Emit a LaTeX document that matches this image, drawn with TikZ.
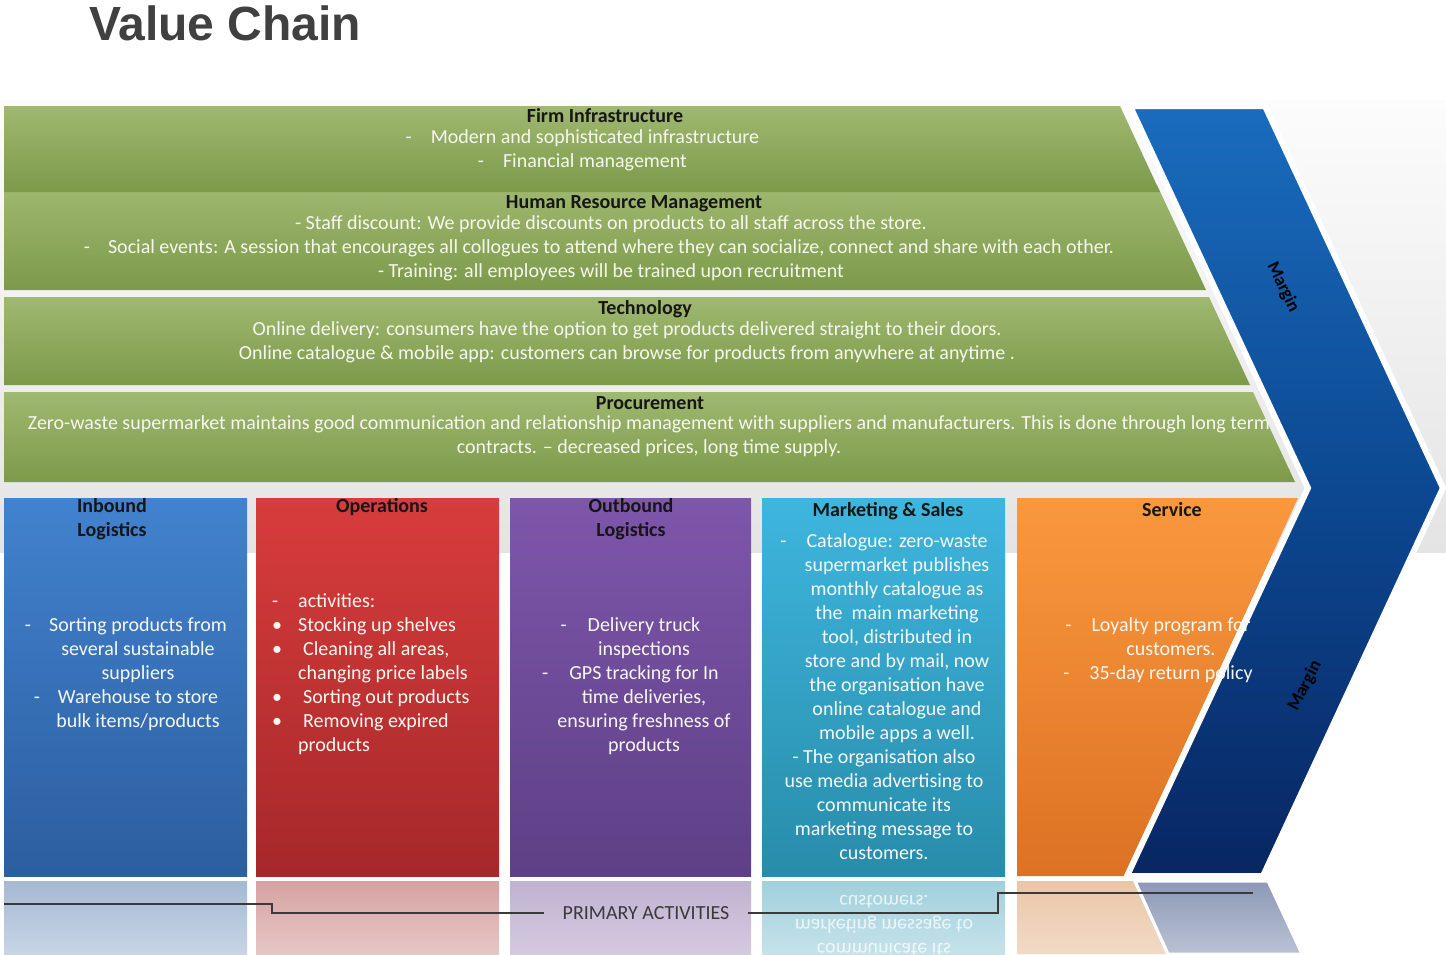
\documentclass[tikz,border=0pt]{standalone}
\usepackage{fontspec}
\setmainfont{Carlito}
\newfontfamily\titlefont{Liberation Sans}
\usetikzlibrary{calc}
\definecolor{bandtop}{RGB}{252,252,252}
\definecolor{bandbot}{RGB}{228,228,228}
\definecolor{gtop}{RGB}{160,184,112}
\definecolor{gbot}{RGB}{124,154,74}
\definecolor{btop}{RGB}{66,130,206}
\definecolor{bbot}{RGB}{44,94,160}
\definecolor{rtop}{RGB}{216,60,60}
\definecolor{rbot}{RGB}{166,40,42}
\definecolor{ptop}{RGB}{126,86,170}
\definecolor{pbot}{RGB}{94,64,134}
\definecolor{ctop}{RGB}{62,182,222}
\definecolor{cbot}{RGB}{40,140,170}
\definecolor{otop}{RGB}{250,152,62}
\definecolor{obot}{RGB}{220,114,36}
\definecolor{chtop}{RGB}{26,108,190}
\definecolor{chmid}{RGB}{12,72,145}
\definecolor{chbot}{RGB}{8,38,98}
\definecolor{headc}{RGB}{22,22,22}
\definecolor{bodyc}{RGB}{246,247,240}
\definecolor{titlec}{RGB}{64,64,64}
\definecolor{linec}{RGB}{58,58,58}
\begin{document}
\begin{tikzpicture}[x=1pt,y=-1pt,
  gbar/.style={top color=gtop,bottom color=gbot,draw=none},
  head/.style={font=\fontsize{20}{24}\selectfont\bfseries,text=headc,inner sep=0pt,anchor=base,align=center},
  body/.style={font=\fontsize{20}{24}\selectfont,text=bodyc,inner sep=0pt,anchor=base,align=center},
  margintxt/.style={font=\fontsize{18}{20}\selectfont\bfseries,text=black,inner sep=0pt},
  brk/.style={draw=linec,line width=2.8pt},
]
\useasboundingbox (0,0) rectangle (1446,954);
\fill[white] (0,0) rectangle (1446,954);
\path[top color=bandtop,bottom color=bandbot] (0,100) rectangle (1446,552);

% title
\node[font=\titlefont\fontsize{48}{56}\selectfont\bfseries,text=titlec,anchor=base west,inner sep=0pt] (title) at (89,40) {Value Chain};

% support activities
\path[gbar] (4,185) -- (1157,185) -- (1206,290) -- (4,290) -- cycle;
\path[gbar] (4,106) -- (1120,106) -- (1160,192) -- (4,192) -- cycle;
\path[gbar] (4,297) -- (1209,297) -- (1250,385) -- (4,385) -- cycle;
\path[gbar] (4,392) -- (1253,392) -- (1295,482) -- (4,482) -- cycle;

\node[head] (fih) at (605,122) {Firm Infrastructure};
\node[body] (fib) at (595,167) {\llap{-\hspace{19pt}}Modern and sophisticated infrastructure\\\llap{-\hspace{19pt}}Financial management};
\node[head] (hrh) at (634,208) {Human Resource Management};
\node[body] (hrb) at (611,277) {- Staff discount: We provide discounts on products to all staff across the store.\\\llap{-\hspace{18pt}}Social events: A session that encourages all collogues to attend where they can socialize, connect and share with each other.\\- Training: all employees will be trained upon recruitment};
\node[head] (teh) at (645,314) {Technology};
\node[body] (teb) at (627,359) {Online delivery: consumers have the option to get products delivered straight to their doors.\\Online catalogue \& mobile app: customers can browse for products from anywhere at anytime .};
\node[head] (prh) at (650,409) {Procurement};
\node[body] (prb) at (649,453) {Zero-waste supermarket maintains good communication and relationship management with suppliers and manufacturers. This is done through long term\\contracts. -- decreased prices, long time supply.};

% primary activities boxes
\path[top color=btop,bottom color=bbot] (4,498) rectangle (247,876);
\path[top color=rtop,bottom color=rbot] (256,498) rectangle (499,876);
\path[top color=ptop,bottom color=pbot] (510,498) rectangle (751,876);
\path[top color=ctop,bottom color=cbot] (762,498) rectangle (1005,876);
\path[top color=otop,bottom color=obot] (1017,498) -- (1298,498) -- (1125,876) -- (1017,876) -- cycle;

% reflections
\path[top color={rgb,255:red,165;green,185;blue,210},bottom color={rgb,255:red,200;green,213;blue,230}] (4,881) rectangle (247,954);
\path[top color={rgb,255:red,214;green,162;blue,162},bottom color={rgb,255:red,232;green,198;blue,198}] (256,881) rectangle (499,954);
\path[top color={rgb,255:red,192;green,178;blue,208},bottom color={rgb,255:red,212;green,202;blue,224}] (510,881) rectangle (751,954);
\path[top color={rgb,255:red,160;green,208;blue,220},bottom color={rgb,255:red,198;green,226;blue,234}] (762,881) rectangle (1005,954);
\path[top color={rgb,255:red,234;green,198;blue,168},bottom color={rgb,255:red,242;green,218;blue,198}] (1017,881) -- (1133,881) -- (1166,954) -- (1017,954) -- cycle;
\path[top color={rgb,255:red,140;green,152;blue,182},bottom color={rgb,255:red,186;green,194;blue,212},draw=white,line width=3pt] (1135,881) -- (1268,881) -- (1302,954) -- (1168,954) -- cycle;

\begin{scope}
\clip (762,881) rectangle (1005,954);
\node[inner sep=0pt,anchor=base,text=white,opacity=0.75] (mirr) at (884,895) {\scalebox{1}[-1]{\parbox[b]{240pt}{\centering\fontsize{20}{24}\selectfont communicate its\\marketing message to\\customers.}}};
\end{scope}

% primary activity texts
\node[head] (inh) at (112,536) {Inbound\\Logistics};
\node[body] (inb) at (138,727) {\llap{-\hspace{18pt}}Sorting products from\\several sustainable\\suppliers\\\llap{-\hspace{18pt}}Warehouse to store\\bulk items/products};
\node[head] (oph) at (382,512) {Operations};
\node[body,anchor=base west,align=left] (opb) at (298,751) {\llap{-\hspace{20pt}}activities:\\\llap{\textbullet\hspace{16pt}}Stocking up shelves\\\llap{\textbullet\hspace{16pt}}\hspace{5pt}Cleaning all areas,\\changing price labels\\\llap{\textbullet\hspace{16pt}}\hspace{5pt}Sorting out products\\\llap{\textbullet\hspace{16pt}}\hspace{5pt}Removing expired\\products};
\node[head] (obh) at (631,536) {Outbound\\Logistics};
\node[body] (obb) at (644,751) {\llap{-\hspace{21pt}}Delivery truck\\inspections\\\llap{-\hspace{21pt}}GPS tracking for In\\time deliveries,\\ensuring freshness of\\products};
\node[head] (msh) at (888,516) {Marketing \& Sales};
\node[body] (msb1) at (897,739) {\llap{-\hspace{20pt}}Catalogue: zero-waste\\supermarket publishes\\monthly catalogue as\\the~ main marketing\\tool, distributed in\\store and by mail, now\\the organisation have\\online catalogue and\\mobile apps a well.};
\node[body] (msb2) at (884,859) {- The organisation also\\use media advertising to\\communicate its\\marketing message to\\customers.};
\node[head] (seh) at (1172,516) {Service};

% margin chevron
\path[draw=white,line width=6pt,line join=miter,top color=chtop,bottom color=chbot,middle color=chmid]
  (1130,106) -- (1265,106) -- (1443,488) -- (1263,876) -- (1127,876) -- (1308,488) -- cycle;
\node[margintxt,rotate=-64] (m1) at (1283,287) {Margin};
\node[margintxt,rotate=63] (m2) at (1305,686) {Margin};

% service text lies over the chevron
\node[body] (seb) at (1171,679) {\llap{-\hspace{20pt}}Loyalty program for\\customers.\\\llap{-\hspace{20pt}}35-day return policy};

% primary activities bracket
\node[font=\fontsize{20}{24}\selectfont,text=linec,inner xsep=18pt,inner ysep=0pt] (pa) at (646,913) {PRIMARY ACTIVITIES};
\coordinate (bl) at (4,904);
\coordinate (br) at (1253,893);
\draw[brk] (bl) -- (272,904) |- (pa.west);
\draw[brk] (pa.east) -| (998,893) -- (br);
\end{tikzpicture}
\end{document}
